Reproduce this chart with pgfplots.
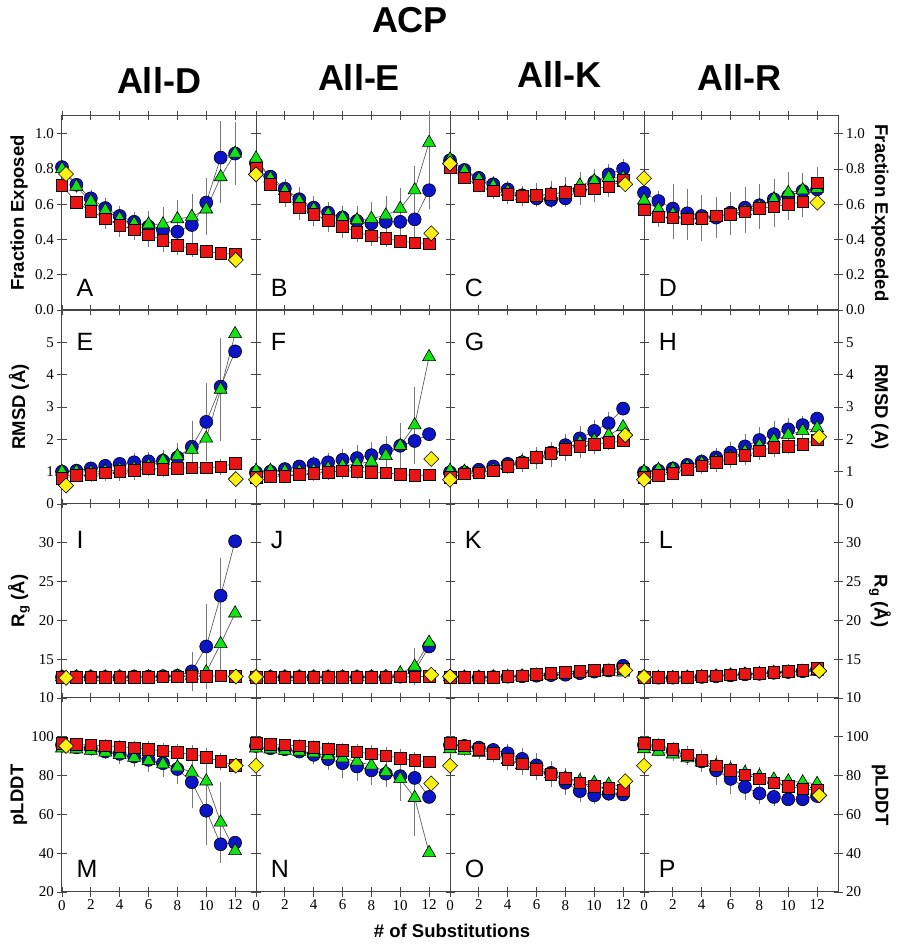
\documentclass[border=0pt]{standalone}
\usepackage{fontspec}
\setmainfont{Liberation Serif}
\newfontfamily\arial{Liberation Sans}
\newfontfamily\tmsfont{Liberation Serif}
\usepackage{pgfplots}
\pgfplotsset{compat=1.18}
\definecolor{cB}{RGB}{12,20,200}
\definecolor{cG}{RGB}{20,225,20}
\definecolor{cR}{RGB}{235,20,20}
\definecolor{cY}{RGB}{250,240,20}
\definecolor{lineC}{RGB}{95,95,95}
\definecolor{errC}{RGB}{120,120,120}
\definecolor{axC}{RGB}{70,70,70}
\newcommand{\ser}[2]{\addplot[#1] table[header=false, x index=0, y index=1, y error index=2, row sep=\\] {#2};}
\newcommand{\yel}[1]{\addplot[only marks, mark=square*, mark size=5.3pt, mark options={rotate=45, fill=cY, draw=black, line width=0.6pt}] coordinates {#1};}
\pgfplotsset{
  base/.style={scale only axis, width=194pt, height=194pt, anchor=south west,
    xmin=0, xmax=13.45, xtick={0,2,4,6,8,10,12}, xticklabels={},
    tick align=center, major tick length=9pt,
    tick style={line width=0.8pt, axC},
    axis line style={line width=1pt, axC},
    clip=false, /pgf/number format/assume math mode=true,
    tick label style={font=\tmsfont\fontsize{15}{15}\selectfont},
    xtick pos=both},
  row1/.style={ymin=0, ymax=1.1, ytick={0,0.2,0.4,0.6,0.8,1.0}, yticklabels={0.0,0.2,0.4,0.6,0.8,1.0}},
  row2/.style={ymin=0, ymax=6, ytick={0,1,2,3,4,5}, yticklabels={0,1,2,3,4,5}},
  row3/.style={ymin=10, ymax=35, ytick={10,15,20,25,30}, yticklabels={10,15,20,25,30}},
  row4/.style={ymin=20, ymax=120, ytick={20,40,60,80,100}, yticklabels={20,40,60,80,100}, xticklabels={0,2,4,6,8,10,12}},
  col1/.style={yticklabel pos=left, ytick pos=both},
  colm/.style={yticklabels={}, ytick pos=both},
  col4/.style={yticklabel pos=right, ytick pos=both},
  ebar/.style={error bars/.cd, y dir=both, y explicit, error bar style={errC, line width=0.6pt}, error mark options={errC, mark size=3pt, line width=0.6pt}},
  sB/.style={lineC, line width=0.7pt, mark=*, mark size=6.5pt, mark options={fill=cB, draw=black, line width=0.6pt}, ebar},
  sG/.style={lineC, line width=0.7pt, mark=triangle*, mark size=7.5pt, mark options={fill=cG, draw=black, line width=0.6pt}, ebar},
  sR/.style={lineC, line width=0.7pt, mark=square*, mark size=5.8pt, mark options={fill=cR, draw=black, line width=0.6pt}, ebar},
}
\tikzset{letter/.style={font=\arial\fontsize{25}{25}\selectfont, inner sep=0pt}}
\begin{document}
\begin{tikzpicture}[x=1pt,y=1pt]
\useasboundingbox (0,0) rectangle (900,948);
% ---------------- Row 1 ----------------
\begin{axis}[base,row1,col1,at={(62pt,638pt)}]
\ser{sB}{0 0.81 0.01\\1 0.71 0.02\\2 0.633 0.03\\3 0.578 0.04\\4 0.533 0.04\\5 0.50 0.04\\6 0.473 0.05\\7 0.454 0.06\\8 0.444 0.07\\9 0.482 0.07\\10 0.609 0.12\\11 0.864 0.19\\12 0.887 0.16\\}
\ser{sG}{0 0.80 0.01\\1 0.70 0.02\\2 0.616 0.02\\3 0.565 0.03\\4 0.518 0.04\\5 0.49 0.04\\6 0.486 0.06\\7 0.486 0.08\\8 0.516 0.09\\9 0.529 0.11\\10 0.571 0.13\\11 0.754 0.13\\12 0.888 0.16\\}
\ser{sR}{0 0.707 0.01\\1 0.609 0.01\\2 0.561 0.02\\3 0.518 0.04\\4 0.48 0.05\\5 0.454 0.04\\6 0.427 0.05\\7 0.395 0.05\\8 0.367 0.04\\9 0.348 0.03\\10 0.333 0.02\\11 0.321 0.01\\12 0.316 0.01\\}
\yel{(0.28,0.771) (12.05,0.284)}
\node[letter,anchor=base west] at (rel axis cs:0.075,0.067) {A};
\end{axis}
\begin{axis}[base,row1,colm,at={(256pt,638pt)}]
\ser{sB}{0 0.832 0.01\\1 0.756 0.02\\2 0.688 0.04\\3 0.628 0.05\\4 0.58 0.05\\5 0.552 0.04\\6 0.525 0.04\\7 0.505 0.05\\8 0.49 0.06\\9 0.50 0.07\\10 0.50 0.08\\11 0.514 0.08\\12 0.679 0.09\\}
\ser{sG}{0 0.86 0.01\\1 0.747 0.02\\2 0.675 0.03\\3 0.618 0.04\\4 0.571 0.05\\5 0.543 0.05\\6 0.524 0.05\\7 0.51 0.06\\8 0.518 0.08\\9 0.537 0.09\\10 0.575 0.10\\11 0.68 0.12\\12 0.949 0.16\\}
\ser{sR}{0 0.807 0.01\\1 0.713 0.02\\2 0.641 0.04\\3 0.58 0.05\\4 0.543 0.05\\5 0.51 0.05\\6 0.476 0.05\\7 0.442 0.04\\8 0.42 0.04\\9 0.405 0.03\\10 0.391 0.02\\11 0.382 0.02\\12 0.376 0.01\\}
\yel{(0,0.769) (12.15,0.435)}
\node[letter,anchor=base west] at (rel axis cs:0.075,0.067) {B};
\end{axis}
\begin{axis}[base,row1,colm,at={(450pt,638pt)}]
\ser{sB}{0 0.849 0.01\\1 0.794 0.01\\2 0.749 0.02\\3 0.713 0.03\\4 0.684 0.03\\5 0.65 0.03\\6 0.633 0.03\\7 0.624 0.03\\8 0.633 0.03\\9 0.679 0.04\\10 0.726 0.04\\11 0.769 0.04\\12 0.80 0.04\\}
\ser{sG}{0 0.854 0.01\\1 0.788 0.01\\2 0.741 0.02\\3 0.703 0.03\\4 0.671 0.03\\5 0.646 0.03\\6 0.646 0.04\\7 0.656 0.04\\8 0.669 0.05\\9 0.707 0.06\\10 0.732 0.05\\11 0.75 0.04\\12 0.75 0.04\\}
\ser{sR}{0 0.807 0.01\\1 0.75 0.01\\2 0.707 0.02\\3 0.675 0.03\\4 0.656 0.04\\5 0.646 0.04\\6 0.652 0.05\\7 0.656 0.06\\8 0.669 0.07\\9 0.68 0.07\\10 0.688 0.06\\11 0.699 0.04\\12 0.735 0.03\\}
\yel{(0,0.83) (12.15,0.713)}
\node[letter,anchor=base west] at (rel axis cs:0.075,0.067) {C};
\end{axis}
\begin{axis}[base,row1,col4,at={(644pt,638pt)}]
\ser{sB}{0 0.665 0.02\\1 0.618 0.04\\2 0.575 0.12\\3 0.548 0.12\\4 0.533 0.10\\5 0.524 0.08\\6 0.552 0.10\\7 0.58 0.10\\8 0.594 0.10\\9 0.628 0.10\\10 0.646 0.10\\11 0.675 0.08\\12 0.684 0.05\\}
\ser{sG}{0 0.622 0.02\\1 0.571 0.05\\2 0.543 0.10\\3 0.514 0.10\\4 0.51 0.10\\5 0.524 0.10\\6 0.543 0.10\\7 0.561 0.10\\8 0.586 0.11\\9 0.628 0.10\\10 0.665 0.10\\11 0.68 0.08\\12 0.688 0.07\\}
\ser{sR}{0 0.567 0.02\\1 0.529 0.04\\2 0.522 0.10\\3 0.518 0.10\\4 0.52 0.08\\5 0.533 0.07\\6 0.543 0.08\\7 0.556 0.10\\8 0.575 0.10\\9 0.586 0.10\\10 0.599 0.07\\11 0.614 0.07\\12 0.722 0.07\\}
\yel{(0,0.747) (12.02,0.609)}
\node[letter,anchor=base west] at (rel axis cs:0.075,0.067) {D};
\end{axis}
% ---------------- Row 2 ----------------
\begin{axis}[base,row2,col1,at={(62pt,444pt)}]
\ser{sB}{0 1.0 0.05\\1 1.03 0.05\\2 1.10 0.1\\3 1.18 0.12\\4 1.24 0.12\\5 1.29 0.2\\6 1.32 0.2\\7 1.34 0.25\\8 1.44 0.3\\9 1.77 0.7\\10 2.54 1.1\\11 3.63 0.6\\12 4.72 0\\}
\ser{sG}{0 1.0 0.05\\1 1.0 0.05\\2 0.98 0.1\\3 1.01 0.1\\4 1.06 0.1\\5 1.10 0.15\\6 1.18 0.2\\7 1.34 0.25\\8 1.49 0.3\\9 1.68 0.35\\10 2.03 0.6\\11 3.54 1.5\\12 5.26 0\\}
\ser{sR}{0 0.79 0.1\\1 0.88 0.1\\2 0.92 0.15\\3 0.96 0.15\\4 1.01 0.2\\5 1.04 0.2\\6 1.10 0.15\\7 1.08 0.15\\8 1.10 0.1\\9 1.12 0.1\\10 1.12 0.1\\11 1.15 0.15\\12 1.26 0.05\\}
\yel{(0.28,0.57) (12.05,0.77)}
\node[letter,anchor=north west] at (rel axis cs:0.075,0.88) {E};
\end{axis}
\begin{axis}[base,row2,colm,at={(256pt,444pt)}]
\ser{sB}{0 0.98 0.05\\1 1.0 0.05\\2 1.08 0.1\\3 1.16 0.1\\4 1.23 0.15\\5 1.29 0.2\\6 1.37 0.25\\7 1.42 0.3\\8 1.51 0.3\\9 1.65 0.35\\10 1.80 0.6\\11 1.95 0.6\\12 2.16 0\\}
\ser{sG}{0 1.03 0.05\\1 1.03 0.05\\2 1.01 0.05\\3 1.01 0.1\\4 1.03 0.1\\5 1.10 0.15\\6 1.18 0.2\\7 1.24 0.25\\8 1.31 0.3\\9 1.49 0.3\\10 1.80 0.6\\11 2.44 1.1\\12 4.55 0\\}
\ser{sR}{0 0.83 0.1\\1 0.85 0.1\\2 0.86 0.1\\3 0.91 0.1\\4 0.95 0.15\\5 0.98 0.15\\6 1.03 0.15\\7 1.01 0.15\\8 0.98 0.1\\9 0.96 0.1\\10 0.92 0.05\\11 0.88 0.05\\12 0.90 0.05\\}
\yel{(0,0.75) (12.15,1.39)}
\node[letter,anchor=north west] at (rel axis cs:0.075,0.88) {F};
\end{axis}
\begin{axis}[base,row2,colm,at={(450pt,444pt)}]
\ser{sB}{0 0.98 0.05\\1 0.98 0.05\\2 1.06 0.05\\3 1.16 0.1\\4 1.24 0.1\\5 1.29 0.15\\6 1.44 0.2\\7 1.59 0.25\\8 1.82 0.25\\9 2.03 0.3\\10 2.26 0.25\\11 2.50 0.25\\12 2.95 0\\}
\ser{sG}{0 1.03 0.05\\1 1.0 0.05\\2 0.98 0.05\\3 1.05 0.1\\4 1.18 0.15\\5 1.29 0.2\\6 1.41 0.25\\7 1.54 0.3\\8 1.72 0.3\\9 1.90 0.3\\10 1.97 0.25\\11 2.13 0.2\\12 2.38 0\\}
\ser{sR}{0 0.83 0.05\\1 0.93 0.1\\2 0.96 0.1\\3 1.03 0.1\\4 1.16 0.15\\5 1.27 0.2\\6 1.44 0.2\\7 1.57 0.25\\8 1.69 0.25\\9 1.78 0.25\\10 1.85 0.2\\11 1.90 0.15\\12 1.95 0.05\\}
\yel{(0,0.75) (12.15,2.13)}
\node[letter,anchor=north west] at (rel axis cs:0.075,0.88) {G};
\end{axis}
\begin{axis}[base,row2,col4,at={(644pt,444pt)}]
\ser{sB}{0 0.98 0.05\\1 1.03 0.05\\2 1.10 0.1\\3 1.21 0.1\\4 1.31 0.15\\5 1.44 0.2\\6 1.59 0.25\\7 1.78 0.3\\8 1.98 0.3\\9 2.16 0.3\\10 2.31 0.25\\11 2.44 0.2\\12 2.64 0\\}
\ser{sG}{0 1.0 0.05\\1 1.06 0.05\\2 1.08 0.1\\3 1.16 0.1\\4 1.26 0.15\\5 1.34 0.2\\6 1.44 0.2\\7 1.62 0.25\\8 1.80 0.25\\9 1.97 0.25\\10 2.14 0.2\\11 2.26 0.2\\12 2.35 0\\}
\ser{sR}{0 0.83 0.05\\1 0.88 0.1\\2 0.95 0.1\\3 1.08 0.1\\4 1.18 0.15\\5 1.29 0.2\\6 1.41 0.2\\7 1.51 0.2\\8 1.65 0.2\\9 1.75 0.2\\10 1.78 0.15\\11 1.85 0.1\\12 1.98 0.05\\}
\yel{(0,0.75) (12.15,2.08)}
\node[letter,anchor=north west] at (rel axis cs:0.075,0.88) {H};
\end{axis}
% ---------------- Row 3 ----------------
\begin{axis}[base,row3,col1,at={(62pt,250pt)}]
\ser{sB}{0 12.7 0.1\\1 12.7 0.1\\2 12.7 0.1\\3 12.7 0.1\\4 12.7 0.1\\5 12.75 0.1\\6 12.75 0.1\\7 12.8 0.1\\8 12.85 0.2\\9 13.43 2.1\\10 16.64 5.1\\11 23.19 4.4\\12 30.2 0\\}
\ser{sG}{0 12.7 0.1\\1 12.7 0.1\\2 12.7 0.1\\3 12.7 0.1\\4 12.7 0.1\\5 12.7 0.1\\6 12.72 0.1\\7 12.75 0.1\\8 12.8 0.2\\9 12.9 0.5\\10 13.34 1.5\\11 16.98 3.6\\12 20.92 0\\}
\ser{sR}{0 12.66 0.05\\1 12.66 0.05\\2 12.66 0.05\\3 12.66 0.05\\4 12.66 0.05\\5 12.68 0.05\\6 12.7 0.05\\7 12.72 0.05\\8 12.75 0.1\\9 12.78 0.1\\10 12.8 0.1\\11 12.87 0.1\\12 12.8 0.05\\}
\yel{(0.28,12.6) (12.05,12.78)}
\node[letter,anchor=north west] at (rel axis cs:0.075,0.86) {I};
\end{axis}
\begin{axis}[base,row3,colm,at={(256pt,250pt)}]
\ser{sB}{0 12.7 0.05\\1 12.7 0.05\\2 12.7 0.05\\3 12.7 0.05\\4 12.7 0.05\\5 12.7 0.05\\6 12.7 0.05\\7 12.7 0.05\\8 12.7 0.05\\9 12.7 0.1\\10 12.75 0.3\\11 13.5 0.5\\12 16.64 0\\}
\ser{sG}{0 12.7 0.05\\1 12.7 0.05\\2 12.7 0.05\\3 12.7 0.05\\4 12.7 0.05\\5 12.7 0.05\\6 12.7 0.05\\7 12.7 0.05\\8 12.7 0.05\\9 12.75 0.1\\10 13.2 0.7\\11 14.07 2.0\\12 17.15 0\\}
\ser{sR}{0 12.7 0.05\\1 12.66 0.05\\2 12.66 0.05\\3 12.66 0.05\\4 12.66 0.05\\5 12.66 0.05\\6 12.68 0.05\\7 12.7 0.05\\8 12.7 0.05\\9 12.7 0.1\\10 12.72 0.2\\11 12.75 0.5\\12 12.8 0.05\\}
\yel{(0,12.7) (12.15,13.0)}
\node[letter,anchor=north west] at (rel axis cs:0.075,0.86) {J};
\end{axis}
\begin{axis}[base,row3,colm,at={(450pt,250pt)}]
\ser{sB}{0 12.7 0.05\\1 12.66 0.05\\2 12.66 0.05\\3 12.7 0.05\\4 12.75 0.05\\5 12.8 0.05\\6 12.87 0.05\\7 12.95 0.05\\8 13.0 0.05\\9 13.2 0.1\\10 13.4 0.1\\11 13.55 0.1\\12 14.15 0.1\\}
\ser{sG}{0 12.7 0.05\\1 12.66 0.05\\2 12.66 0.05\\3 12.7 0.05\\4 12.75 0.05\\5 12.8 0.05\\6 12.9 0.05\\7 13.0 0.05\\8 13.1 0.05\\9 13.2 0.1\\10 13.3 0.1\\11 13.35 0.1\\12 13.3 0.1\\}
\ser{sR}{0 12.7 0.05\\1 12.66 0.05\\2 12.66 0.05\\3 12.7 0.05\\4 12.78 0.05\\5 12.87 0.05\\6 13.08 0.05\\7 13.2 0.05\\8 13.34 0.05\\9 13.47 0.1\\10 13.55 0.1\\11 13.64 0.1\\12 13.75 0.1\\}
\yel{(0,12.78) (12.15,13.55)}
\node[letter,anchor=north west] at (rel axis cs:0.075,0.86) {K};
\end{axis}
\begin{axis}[base,row3,col4,at={(644pt,250pt)}]
\ser{sB}{0 12.7 0.05\\1 12.62 0.05\\2 12.62 0.05\\3 12.66 0.05\\4 12.72 0.05\\5 12.8 0.05\\6 12.92 0.05\\7 13.05 0.05\\8 13.12 0.05\\9 13.25 0.1\\10 13.35 0.1\\11 13.45 0.1\\12 13.7 0.1\\}
\ser{sG}{0 12.7 0.05\\1 12.62 0.05\\2 12.62 0.05\\3 12.66 0.05\\4 12.72 0.05\\5 12.8 0.05\\6 12.92 0.05\\7 13.05 0.05\\8 13.12 0.05\\9 13.25 0.1\\10 13.35 0.1\\11 13.4 0.1\\12 13.4 0.1\\}
\ser{sR}{0 12.7 0.05\\1 12.66 0.05\\2 12.66 0.05\\3 12.7 0.05\\4 12.78 0.05\\5 12.87 0.05\\6 13.0 0.05\\7 13.13 0.05\\8 13.2 0.05\\9 13.34 0.1\\10 13.43 0.1\\11 13.55 0.1\\12 13.85 0.1\\}
\yel{(0,12.7) (12.15,13.5)}
\node[letter,anchor=north west] at (rel axis cs:0.075,0.86) {L};
\end{axis}
% ---------------- Row 4 ----------------
\begin{axis}[base,row4,col1,at={(62pt,56pt)}]
\ser{sB}{0 95.8 1\\1 94.6 1\\2 94.1 1\\3 92.4 2\\4 91.2 3\\5 89.8 4\\6 88.1 4\\7 86.4 5\\8 83.4 6\\9 76.6 12\\10 61.9 16\\11 44.6 8\\12 45.4 0\\}
\ser{sG}{0 94.1 1\\1 93.6 1\\2 92.9 1\\3 92.0 2\\4 90.7 3\\5 89.3 3\\6 87.6 4\\7 85.9 5\\8 84.4 6\\9 81.7 7\\10 77.1 10\\11 55.9 19\\12 41.2 0\\}
\ser{sR}{0 96.6 2\\1 96.1 1.5\\2 95.8 1.5\\3 95.3 2\\4 94.9 2\\5 94.4 2\\6 93.6 2.5\\7 92.7 2.5\\8 91.9 3\\9 91.0 3\\10 89.5 3\\11 87.3 3\\12 85.3 1\\}
\yel{(0.28,95.3) (12.05,85.1)}
\node[letter,anchor=base west] at (rel axis cs:0.075,0.077) {M};
\end{axis}
\begin{axis}[base,row4,colm,at={(256pt,56pt)}]
\ser{sB}{0 95.3 1\\1 94.1 1\\2 93.6 1\\3 92.4 2\\4 90.7 3\\5 88.5 4\\6 86.4 6\\7 84.7 6\\8 82.7 6\\9 81.0 5\\10 79.7 5\\11 78.8 4\\12 69.0 0\\}
\ser{sG}{0 94.1 1\\1 93.6 1\\2 92.9 1\\3 92.4 2\\4 91.5 3\\5 90.2 3\\6 89.0 4\\7 87.3 5\\8 85.3 6\\9 81.9 6\\10 78.3 10\\11 68.6 18\\12 40.2 0\\}
\ser{sR}{0 96.6 2\\1 96.1 1.5\\2 95.8 1.5\\3 95.3 2\\4 94.6 2\\5 93.8 2\\6 93.0 2.5\\7 92.2 2.5\\8 91.2 3\\9 90.3 3\\10 89.0 3\\11 87.8 3\\12 87.1 1\\}
\yel{(0,85.1) (12.15,75.9)}
\node[letter,anchor=base west] at (rel axis cs:0.075,0.077) {N};
\end{axis}
\begin{axis}[base,row4,colm,at={(450pt,56pt)}]
\ser{sB}{0 95.8 1\\1 95.3 1\\2 94.4 2\\3 93.2 2\\4 91.5 3\\5 88.6 4\\6 85.3 5\\7 81.4 4\\8 76.3 5\\9 72.0 4\\10 69.8 3\\11 70.7 2\\12 70.3 1\\}
\ser{sG}{0 93.7 1\\1 92.9 1\\2 91.9 2\\3 90.3 2\\4 88.1 3\\5 85.6 3\\6 83.1 4\\7 80.8 4\\8 78.8 3\\9 77.1 3\\10 76.3 2\\11 75.4 2\\12 74.6 1\\}
\ser{sR}{0 96.6 3\\1 95.4 2\\2 93.6 2\\3 91.5 3\\4 88.5 4\\5 86.1 4\\6 83.1 4\\7 80.8 5\\8 78.5 4\\9 76.3 3\\10 74.6 3\\11 73.4 2\\12 72.4 1\\}
\yel{(0,85.1) (12.15,77.1)}
\node[letter,anchor=base west] at (rel axis cs:0.075,0.077) {O};
\end{axis}
\begin{axis}[base,row4,col4,at={(644pt,56pt)}]
\ser{sB}{0 95.8 1\\1 94.9 1\\2 92.7 2\\3 90.2 3\\4 87.3 4\\5 82.7 6\\6 78.3 6\\7 74.2 5\\8 70.8 4\\9 69.0 3\\10 67.8 2\\11 67.8 2\\12 69.5 1\\}
\ser{sG}{0 93.7 1\\1 92.4 1\\2 91.0 2\\3 89.0 2\\4 86.9 3\\5 85.1 3\\6 83.1 3\\7 81.4 3\\8 79.7 3\\9 78.0 2\\10 77.1 2\\11 76.6 2\\12 75.8 1\\}
\ser{sR}{0 96.6 3\\1 95.8 2\\2 93.7 2\\3 90.7 3\\4 87.8 4\\5 85.1 4\\6 82.7 4\\7 80.5 3\\8 78.3 3\\9 76.3 3\\10 74.6 3\\11 73.2 2\\12 72.5 1\\}
\yel{(0,85.1) (12.15,69.8)}
\node[letter,anchor=base west] at (rel axis cs:0.075,0.077) {P};
\end{axis}
% ---------------- Titles and labels ----------------
\node[font=\arial\bfseries\fontsize{36}{36}\selectfont] at (410,928) {ACP};
\node[font=\arial\bfseries\fontsize{36}{36}\selectfont] at (159,868) {All-D};
\node[font=\arial\bfseries\fontsize{36}{36}\selectfont] at (359,871) {All-E};
\node[font=\arial\bfseries\fontsize{36}{36}\selectfont] at (559,874) {All-K};
\node[font=\arial\bfseries\fontsize{36}{36}\selectfont] at (739,871) {All-R};
\tikzset{lab/.style={font=\arial\bfseries\fontsize{18.5}{18.5}\selectfont}}
\node[lab,rotate=90] at (19,735) {Fraction Exposed};
\node[lab,rotate=90] at (19,541) {RMSD (Å)};
\node[lab,rotate=90] at (19,347) {R\textsubscript{g} (Å)};
\node[lab,rotate=90] at (19,153) {pLDDT};
\node[lab,rotate=-90] at (880,735) {Fraction Exposeded};
\node[lab,rotate=-90] at (880,541) {RMSD (A)};
\node[lab,rotate=-90] at (880,347) {R\textsubscript{g} (Å)};
\node[lab,rotate=-90] at (880,153) {pLDDT};
\node[lab] at (452,17) {\# of Substitutions};
\end{tikzpicture}
\end{document}
